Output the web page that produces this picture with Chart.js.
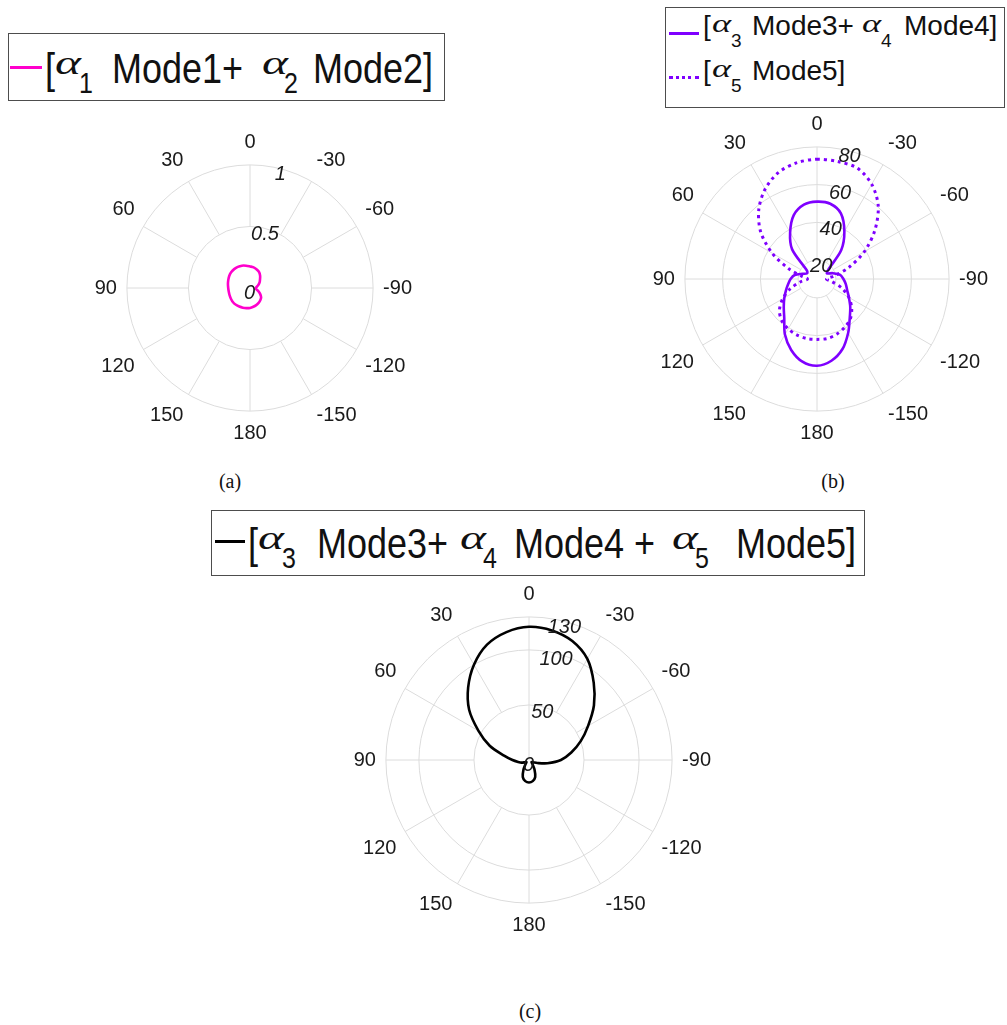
<!DOCTYPE html>
<html>
<head>
<meta charset="utf-8">
<script src="https://cdn.jsdelivr.net/npm/chart.js@4.4.1/dist/chart.umd.min.js"></script>
<style>
html,body{margin:0;padding:0;background:#fff;}
body{width:1007px;height:1025px;position:relative;overflow:hidden;font-family:"Liberation Sans",Arial,sans-serif;color:#111;}
canvas{position:absolute;}
.box{position:absolute;border:1px solid #4d4d4d;background:#fff;box-sizing:border-box;}
.smp{position:absolute;}
.f{position:absolute;white-space:nowrap;transform-origin:left top;font-family:"Liberation Sans",Arial,sans-serif;}
.al{font-family:"Liberation Serif","DejaVu Serif",serif;font-style:italic;}
.cap{position:absolute;font-family:"Liberation Serif","DejaVu Serif",serif;font-size:20px;line-height:20px;width:60px;text-align:center;color:#111;}
</style>
</head>
<body>
<canvas id="ca" width="324" height="324" style="left:92px;top:126px"></canvas>
<canvas id="cb" width="342" height="342" style="left:650px;top:108px"></canvas>
<canvas id="cc" width="364" height="364" style="left:351px;top:578px"></canvas>

<!-- legend (a) -->
<div class="box" style="left:8px;top:33px;width:437px;height:68px"></div>
<div class="smp" style="left:10px;top:66px;width:32px;height:3px;background:#ff00cc"></div>
<div class="f" style="left:45px;top:47px;font-size:36px;line-height:36px;transform:scaleY(1.2)">[</div>
<div class="f al" style="left:55px;top:46px;font-size:34px;line-height:34px;transform:scaleX(1.45)">α</div>
<div class="f" style="left:79px;top:68px;font-size:25px;line-height:25px;transform:scaleY(1.2)">1</div>
<div class="f" style="left:112px;top:47px;font-size:36px;line-height:36px;transform:scaleY(1.2)">Mode1+</div>
<div class="f al" style="left:262px;top:46px;font-size:34px;line-height:34px;transform:scaleX(1.45)">α</div>
<div class="f" style="left:284px;top:68px;font-size:25px;line-height:25px;transform:scaleY(1.2)">2</div>
<div class="f" style="left:313px;top:47px;font-size:36px;line-height:36px;transform:scaleY(1.2)">Mode2]</div>

<!-- legend (b) -->
<div class="box" style="left:665px;top:7px;width:340px;height:101px"></div>
<div class="smp" style="left:669px;top:32px;width:30px;height:3px;background:#7f00ff"></div>
<div class="smp" style="left:669px;top:76px;width:30px;height:0;border-top:3px dotted #7f00ff"></div>
<div class="f" style="left:703px;top:12px;font-size:28px;line-height:28px">[</div>
<div class="f al" style="left:712px;top:11px;font-size:26px;line-height:26px;transform:scaleX(1.4)">α</div>
<div class="f" style="left:731px;top:31px;font-size:19px;line-height:19px">3</div>
<div class="f" style="left:752px;top:12px;font-size:28px;line-height:28px">Mode3+</div>
<div class="f al" style="left:862px;top:11px;font-size:26px;line-height:26px;transform:scaleX(1.4)">α</div>
<div class="f" style="left:881px;top:31px;font-size:19px;line-height:19px">4</div>
<div class="f" style="left:904px;top:12px;font-size:28px;line-height:28px">Mode4]</div>
<div class="f" style="left:703px;top:57px;font-size:28px;line-height:28px">[</div>
<div class="f al" style="left:712px;top:56px;font-size:26px;line-height:26px;transform:scaleX(1.4)">α</div>
<div class="f" style="left:731px;top:76px;font-size:19px;line-height:19px">5</div>
<div class="f" style="left:752px;top:57px;font-size:28px;line-height:28px">Mode5]</div>

<!-- legend (c) -->
<div class="box" style="left:211px;top:510px;width:654px;height:66px"></div>
<div class="smp" style="left:215px;top:540px;width:30px;height:3px;background:#000"></div>
<div class="f" style="left:248px;top:522px;font-size:36px;line-height:36px;transform:scaleY(1.2)">[</div>
<div class="f al" style="left:258px;top:521px;font-size:34px;line-height:34px;transform:scaleX(1.45)">α</div>
<div class="f" style="left:282px;top:543px;font-size:25px;line-height:25px;transform:scaleY(1.2)">3</div>
<div class="f" style="left:317px;top:522px;font-size:36px;line-height:36px;transform:scaleY(1.2)">Mode3+</div>
<div class="f al" style="left:460px;top:521px;font-size:34px;line-height:34px;transform:scaleX(1.45)">α</div>
<div class="f" style="left:483px;top:543px;font-size:25px;line-height:25px;transform:scaleY(1.2)">4</div>
<div class="f" style="left:514px;top:522px;font-size:36px;line-height:36px;transform:scaleY(1.2)">Mode4 +</div>
<div class="f al" style="left:672px;top:521px;font-size:34px;line-height:34px;transform:scaleX(1.45)">α</div>
<div class="f" style="left:695px;top:543px;font-size:25px;line-height:25px;transform:scaleY(1.2)">5</div>
<div class="f" style="left:736px;top:522px;font-size:36px;line-height:36px;transform:scaleY(1.2)">Mode5]</div>

<div class="cap" style="left:200px;top:471px">(a)</div>
<div class="cap" style="left:803px;top:471px">(b)</div>
<div class="cap" style="left:500px;top:1001px">(c)</div>

<script>
// ---- data (angles in degrees, in drawing order clockwise from top: 0, -10, ... , 180, ..., 10) ----
const thetaLabels = [0,-10,-20,-30,-40,-50,-60,-70,-80,-90,-100,-110,-120,-130,-140,-150,-160,-170,
                     180,170,160,150,140,130,120,110,100,90,80,70,60,50,40,30,20,10];

// (a) alpha1 Mode1 + alpha2 Mode2
const modes12 = [0.175,0.170,0.160,0.148,0.128,0.106,0.090,0.072,0.055,0.047,0.050,0.070,0.095,0.118,0.130,0.140,0.148,0.155,
                 0.162,0.166,0.170,0.174,0.178,0.180,0.178,0.176,0.175,0.177,0.182,0.188,0.195,0.200,0.200,0.198,0.193,0.184];

// (b) alpha3 Mode3 + alpha4 Mode4 (solid) and alpha5 Mode5 (dotted)
const modes34 = [51,50.5,47,39,30,18,16,19,22.5,24,25.5,27,29.5,33,37,43,49.5,54,
                 56,54.5,50,44,37,33,30,27.5,25.5,24,22,18,16,17,30.5,38.5,46,50];
const mode5   = [73.5,73.2,72.5,68,60.5,50,39,28,19,15,18,24,29.5,34,37.5,39.5,41,42,
                 42,42,41.5,40.5,39,36,31,25,19,15,18,26,37.5,49,58,65,70,72.5];

// (c) alpha3 Mode3 + alpha4 Mode4 + alpha5 Mode5
const modes345 = [121,119.5,115,106,91.5,77,62,50,39,29,17,8,4,3,5,10,16.5,19.5,
                  20.5,19.5,16.5,10,5,3,4,7,10,15,23,38,53,71,86,100,111.5,118];

// radial axis settings and tick labels
const rA = {min:0, max:1, step:0.5};   const ticksA = [0, 0.5, 1];
const rB = {min:10, max:80, step:20};  const ticksB = [20, 40, 60, 80];
const rC = {min:0, max:130, step:50};  const ticksC = [0, 50, 100, 130];

const GRID = '#dcdcdc';
const TXT = '#1a1a1a';
const FONT = '"Liberation Sans", Arial, sans-serif';
const RT_ANGLE = 14.5; // direction of radial tick labels (deg, clockwise from top)

function tickPlugin(labels) {
  return {
    id: 'rTickLabels',
    afterDatasetsDraw(chart) {
      const s = chart.scales.r, ctx = chart.ctx;
      const a = RT_ANGLE * Math.PI / 180;
      ctx.save();
      ctx.font = 'italic 20px ' + FONT;
      ctx.fillStyle = TXT;
      ctx.textAlign = 'center';
      ctx.textBaseline = 'alphabetic';
      labels.forEach(v => {
        const d = s.getDistanceFromCenterForValue(v);
        const x = s.xCenter + d * Math.sin(a) - 0.5;
        const y = s.yCenter - d * Math.cos(a) + 4;
        ctx.fillText(String(v), x, y + 7.2);
      });
      ctx.restore();
    }
  };
}

function polar(id, datasets, r, tickLabels, innerVal, fullFirst) {
  new Chart(document.getElementById(id), {
    type: 'radar',
    data: { labels: thetaLabels, datasets: datasets },
    options: {
      responsive: false, animation: false, events: [],
      layout: { padding: 0 },
      plugins: { legend: { display: false }, tooltip: { enabled: false } },
      elements: { point: { radius: 0, hoverRadius: 0 }, line: { tension: 0.3 } },
      scales: {
        r: {
          min: r.min, max: r.max,
          ticks: { display: false, stepSize: r.step },
          grid: { circular: true, color: GRID, lineWidth: 1 },
          angleLines: {
            color: GRID,
            lineWidth: c => (thetaLabels[c.index] % 30 === 0 ? 1 : 0),
            borderDash: c => {
              if (fullFirst && c.index === 0) return [];
              const g = c.chart.scales.r.getDistanceFromCenterForValue(innerVal);
              return [3000, g];
            },
            borderDashOffset: c => ((fullFirst && c.index === 0) ? 0 : 3000)
          },
          pointLabels: {
            display: true,
            padding: 10,
            color: TXT,
            font: { family: FONT, size: 20 },
            callback: v => (v % 30 === 0 ? String(v) : '')
          }
        }
      }
    },
    plugins: [tickPlugin(tickLabels)]
  });
}

polar('ca', [
  { data: modes12, borderColor: '#ff00cc', borderWidth: 2.6, fill: false }
], rA, ticksA, 0.5, false);

polar('cb', [
  { data: modes34, borderColor: '#7f00ff', borderWidth: 2.6, fill: false },
  { data: mode5, borderColor: '#7f00ff', borderWidth: 3, borderDash: [3, 4], borderCapStyle: 'butt', fill: false }
], rB, ticksB, 20, false);

polar('cc', [
  { data: modes345, borderColor: '#000000', borderWidth: 2.6, fill: false }
], rC, ticksC, 50, true);
</script>
</body>
</html>
